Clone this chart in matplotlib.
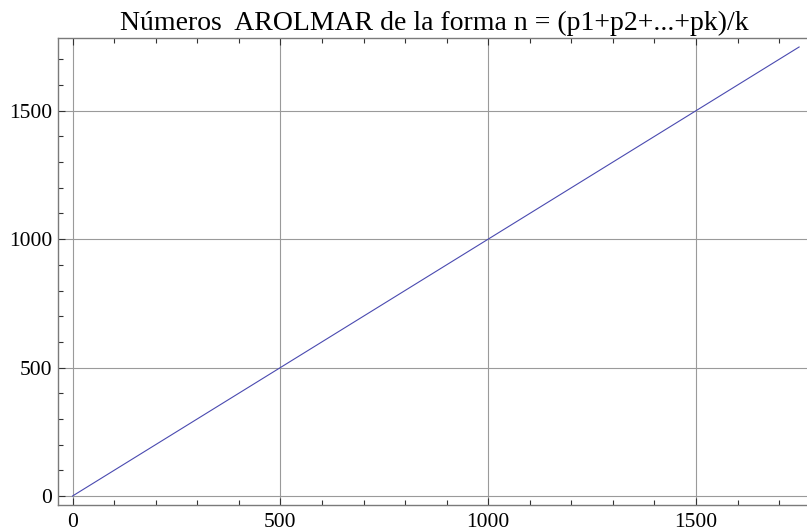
import matplotlib
matplotlib.use("Agg")
import matplotlib.pyplot as plt
from matplotlib.ticker import MultipleLocator

# Data
n_x = [0, 1748]
n_y = [0, 1748]
x_ticks = [0, 500, 1000, 1500]
y_ticks = [0, 500, 1000, 1500]
title = "Números  AROLMAR de la forma n = (p1+p2+...+pk)/k"

plt.rcParams['font.family'] = ['Liberation Serif', 'DejaVu Serif']

fig = plt.figure(figsize=(8.07, 5.31), dpi=100)
ax = fig.add_axes([58/807, 1-505/531, 1-58/807, (505-38)/531])

ax.plot(n_x, n_y, color='#4a4ab0', lw=0.8)

ax.set_xlim(-35, 1767)
ax.set_ylim(-35, 1783)
ax.set_xticks(x_ticks)
ax.set_yticks(y_ticks)
ax.xaxis.set_minor_locator(MultipleLocator(100))
ax.yaxis.set_minor_locator(MultipleLocator(100))

ax.grid(True, which='major', color='#9a9a9a', lw=0.8)
ax.set_axisbelow(True)

for s in ['left', 'bottom', 'top']:
    ax.spines[s].set_color('#7a7a7a')
    ax.spines[s].set_linewidth(1.0)
ax.spines['right'].set_visible(False)

ax.tick_params(axis='both', which='both', direction='in', colors='#333333',
               labelcolor='black', labelsize=15.5)
ax.tick_params(axis='x', which='both', top=True, bottom=True)
ax.tick_params(axis='y', which='both', left=True, right=False)
ax.tick_params(which='major', length=5, width=0.8)
ax.tick_params(which='minor', length=3.5, width=0.8)
ax.tick_params(axis='x', pad=6)
ax.tick_params(axis='y', pad=4)

fig.text(434.5/807, 1-30/531, title, ha='center', va='baseline', fontsize=20)

fig.savefig('out.png', dpi=100)
